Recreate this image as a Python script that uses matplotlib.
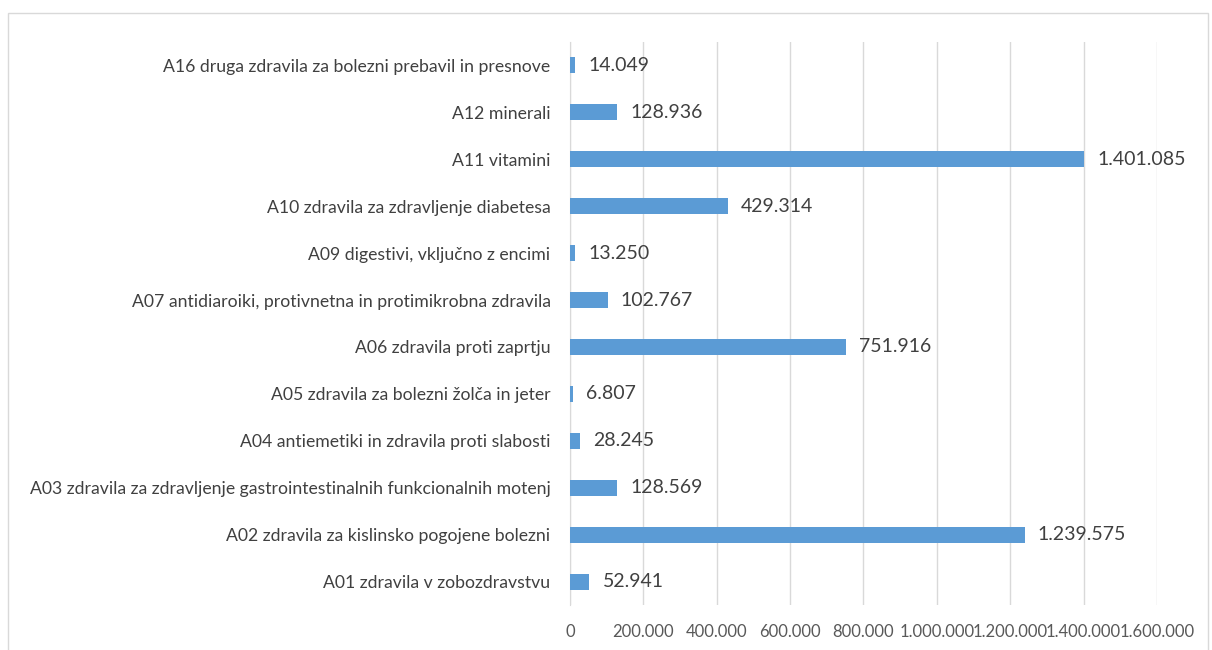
import matplotlib.pyplot as plt
from matplotlib.patches import Rectangle
from matplotlib.ticker import FuncFormatter

# kategorije (od spodaj navzgor) in vrednosti
categories = [
    "A01 zdravila v zobozdravstvu",
    "A02 zdravila za kislinsko pogojene bolezni",
    "A03 zdravila za zdravljenje gastrointestinalnih funkcionalnih motenj",
    "A04 antiemetiki in zdravila proti slabosti",
    "A05 zdravila za bolezni žolča in jeter",
    "A06 zdravila proti zaprtju",
    "A07 antidiaroiki, protivnetna in protimikrobna zdravila",
    "A09 digestivi, vključno z encimi",
    "A10 zdravila za zdravljenje diabetesa",
    "A11 vitamini",
    "A12 minerali",
    "A16 druga zdravila za bolezni prebavil in presnove",
]
values = [52941, 1239575, 128569, 28245, 6807, 751916, 102767, 13250, 429314, 1401085, 128936, 14049]
x_ticks = [0, 200000, 400000, 600000, 800000, 1000000, 1200000, 1400000, 1600000]


def fmt(v):
    return f"{int(v):,}".replace(",", ".")


plt.rcParams['font.family'] = ['Lato', 'DejaVu Sans']

fig = plt.figure(figsize=(12.12, 6.5), dpi=100)
ax = fig.add_axes([0.4703, 0.0692, 0.4843, 0.8662])

y = range(len(categories))
ax.barh(y, values, height=0.34, color="#5B9BD5", zorder=3)

# oznake vrednosti
for yi, v in zip(y, values):
    ax.text(v + 36000, yi, fmt(v), va="center", ha="left", fontsize=14, color="#404040")

ax.set_ylim(-0.5, len(categories) - 0.5)
ax.set_xlim(0, 1600000)
ax.set_yticks(list(y))
ax.set_yticklabels(categories, fontsize=12.7, color="#404040")
ax.set_xticks(x_ticks)
ax.xaxis.set_major_formatter(FuncFormatter(lambda v, p: fmt(v)))
ax.tick_params(axis="x", labelsize=12, labelcolor="#595959", length=0, pad=14)
ax.tick_params(axis="y", length=0, pad=14)
ax.grid(axis="x", color="#D9D9D9", linewidth=1, zorder=0)

for s in ["top", "right", "bottom"]:
    ax.spines[s].set_visible(False)
ax.spines["left"].set_color("#D9D9D9")

# okvir grafa
fig.patches.append(Rectangle((8 / 1212, -0.01), 1200 / 1212, (650 - 13) / 650 + 0.01,
                             transform=fig.transFigure, fill=False,
                             edgecolor="#D9D9D9", linewidth=1))

fig.savefig("out.png", dpi=100)
